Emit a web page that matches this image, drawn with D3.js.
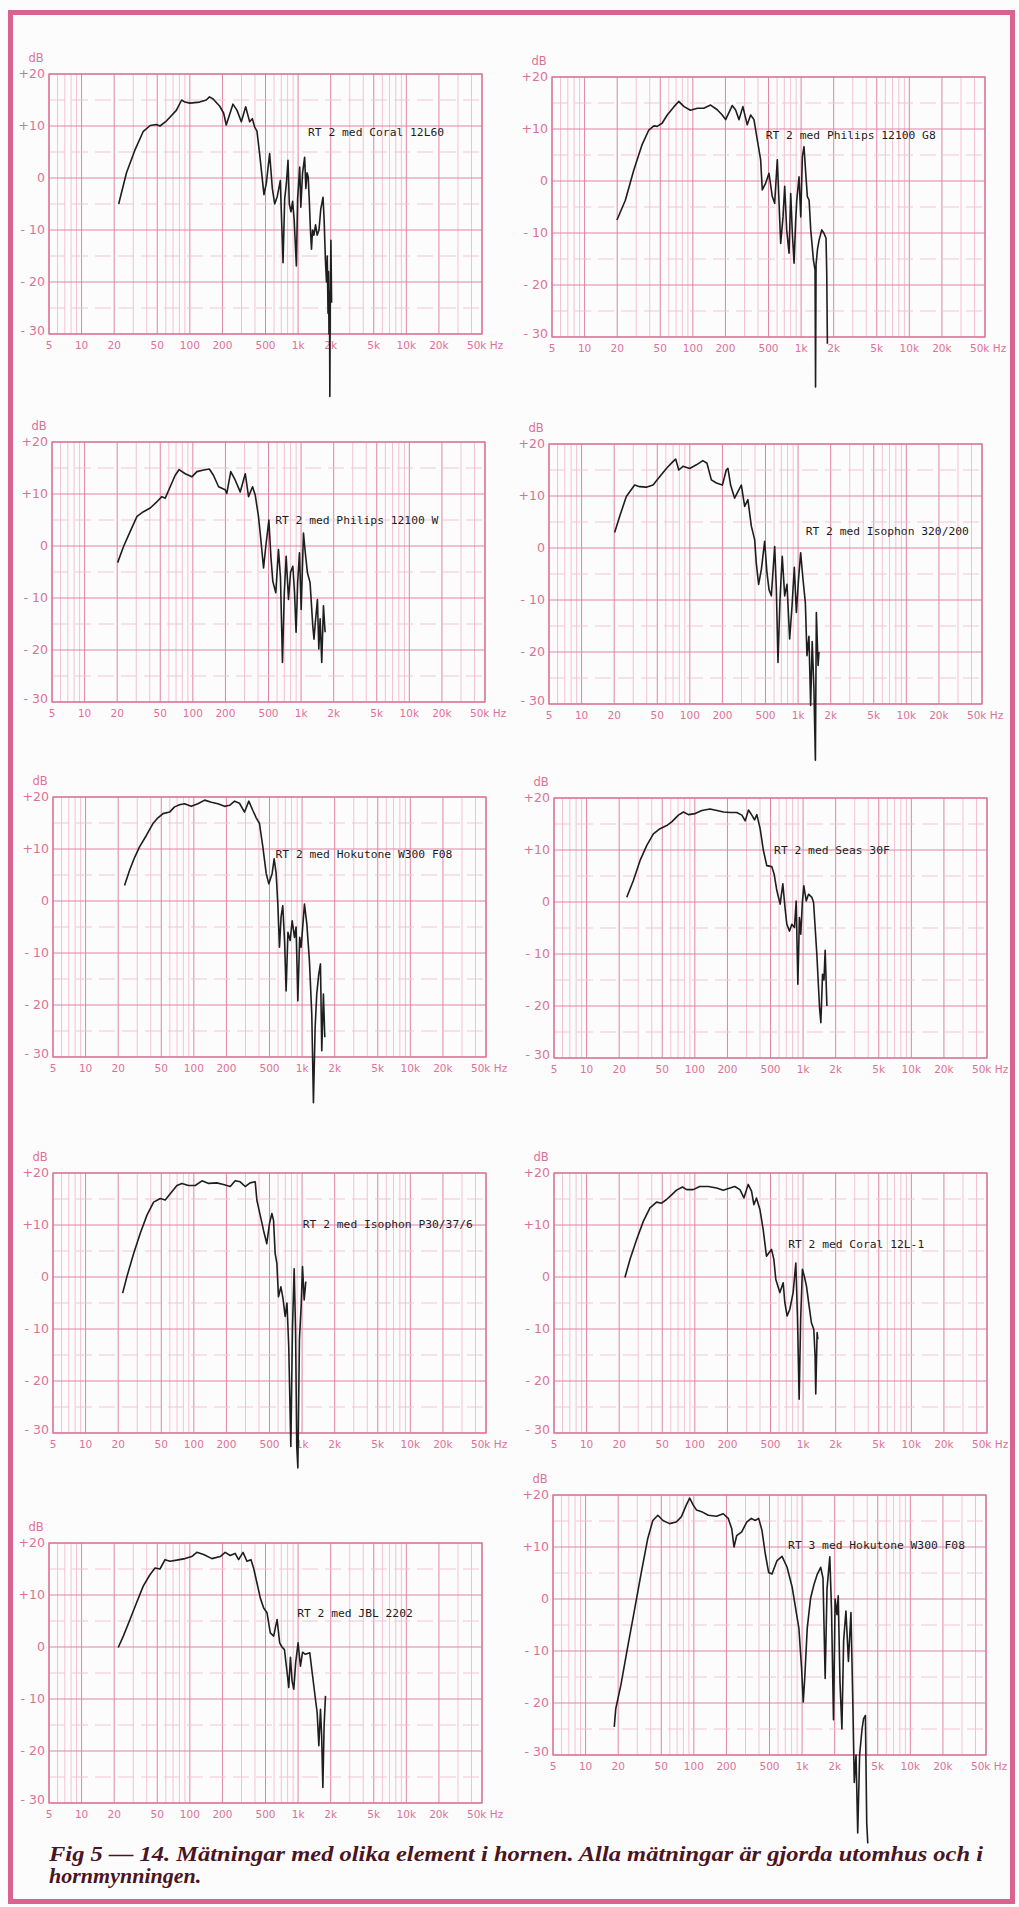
<!DOCTYPE html>
<html>
<head>
<meta charset="utf-8">
<script src="https://cdn.jsdelivr.net/npm/d3@7"></script>
<style>
  body { margin: 0; background: #fff; }
  svg { display: block; }
</style>
</head>
<body>
<svg id="page" width="1019" height="1907"></svg>
<script>
// ---- data: [frequency Hz, level dB] ----
const coral12L60 = [[22,-5],[26,1],[31,5.3],[37,8.9],[43,10.1],[49,10.3],[53,10],[61,11],[75,13],[84,15],[90,14.6],[100,14.4],[123,14.6],[142,15],[152,15.6],[164,15.2],[189,13.8],[205,12.5],[217,10.2],[250,14.2],[273,13],[299,10.8],[328,13.7],[357,10.8],[378,11.4],[397,9.8],[417,9],[441,4.7],[484,-3.2],[509,-1],[546,4.7],[578,-2],[608,-5],[643,-3.5],[685,-0.5],[726,-16.3],[752,-4],[780,-1],[807,3.4],[830,-5],[860,-6.5],[890,-4.5],[920,-8],[964,-16.9],[990,-4],[1035,2.1],[1060,-5.6],[1100,1],[1150,4],[1180,-2],[1210,1],[1240,0.2],[1270,-4.4],[1300,-10],[1330,-13.7],[1360,-10],[1400,-11],[1450,-9],[1500,-11],[1560,-10],[1620,-6],[1700,-3.7],[1740,-8],[1790,-16],[1830,-20],[1860,-15],[1890,-26],[1910,-18],[1930,-30],[1950,-22],[1965,-42],[1980,-25],[2010,-12],[2040,-24]];
const philips12100G8 = [[19.9,-7.5],[23.8,-3.7],[28.5,2.1],[34,7],[39.2,9.8],[43.6,10.6],[46.8,10.5],[52,11.1],[58,12.7],[67,14.3],[74,15.3],[83,14.3],[95,13.6],[110,14],[126,14],[146,14.6],[168,13.7],[187,12.7],[201,11.8],[231,14.5],[248,13.7],[267,11.8],[290,14.3],[318,10.8],[342,12.7],[367,11.8],[394,7.9],[423,4.1],[438,-1.7],[471,-0.4],[505,1.5],[542,-3],[570,-4.3],[603,4.1],[648,-12],[681,-6.9],[706,-1],[736,-9.4],[774,-13.9],[802,-2.4],[830,-10],[861,-15.8],[890,-8],[912,-3.7],[957,0.8],[993,-6.9],[1028,4.7],[1064,6.6],[1104,1.5],[1143,-3],[1186,-3.7],[1228,-9.4],[1300,-15.2],[1346,-17.1],[1360,-39.6],[1375,-16],[1420,-13],[1466,-11.4],[1552,-9.4],[1630,-10.1],[1700,-11],[1726,-17.8],[1750,-31.3]];
const philips12100W = [[20.2,-3.2],[22.9,-0.1],[26.4,2.8],[30.5,5.7],[35,6.6],[40.4,7.3],[46.5,8.5],[51.8,9.5],[55.6,9.2],[61.8,11.4],[68.7,13.6],[74.8,14.7],[85,13.9],[98,13.3],[109,14.3],[126,14.6],[142,14.8],[155,13.6],[173,11.4],[199,10.8],[206,10.1],[224,14.3],[246,12.7],[274,10.4],[305,13.9],[327,9.5],[356,11.4],[377,9.8],[404,5.7],[419,2.5],[450,-4.2],[472,-0.1],[504,5],[526,-2],[548,-6.8],[584,-9],[618,-0.7],[645,-6],[673,-22.4],[700,-9],[728,-2],[765,-10.3],[800,-5],[839,-3.9],[870,-9],[899,-16.6],[930,-7],[966,-1.3],[1002,-12.2],[1052,2.5],[1090,-1],[1146,-5.2],[1210,-7],[1283,-15.4],[1316,-17.9],[1350,-15],[1416,-10.3],[1458,-19.8],[1500,-14],[1552,-22.4],[1609,-11.5],[1667,-16.6]];
const isophon320 = [[20.2,3],[22.5,6.1],[25.9,9.9],[30.9,12.1],[34.4,11.8],[39.6,11.7],[45.7,12.1],[52.6,13.7],[60.7,15.3],[69.8,16.6],[74,17.1],[79,15],[86.5,15.7],[99.6,15.3],[115,16],[132,16.8],[144,16.3],[158,13.1],[176,12.5],[200,12.1],[217,15],[225,15.3],[238,12.1],[259,9.6],[279,10.9],[299,12.1],[321,8],[344,9.3],[370,4.2],[397,1.6],[411,-2.9],[432,-7],[458,-4.1],[491,1.3],[516,-4.8],[539,-8],[566,-9.2],[608,0.3],[630,-8],[652,-22],[680,-10],[714,-1.6],[752,-9.2],[790,-7],[836,-17.5],[880,-11],[923,-3.7],[964,-12.4],[1010,-6],[1056,-0.9],[1110,-6],[1167,-10.5],[1208,-20.7],[1260,-17],[1306,-30.3],[1350,-18],[1400,-27],[1445,-40.8],[1475,-12.4],[1530,-22.6],[1560,-20]];
const hokutoneRT2 = [[22.9,3],[25.5,5.9],[28.4,8.4],[31.5,10.4],[36.4,12.6],[41.9,14.9],[46.6,16],[51.9,16.8],[59.7,17.1],[66.4,18.1],[73.8,18.5],[82,18.7],[94.6,18.2],[109,18.7],[126,19.4],[145,19],[167,18.7],[192,18.2],[214,18.4],[238,19.2],[264,18.8],[294,17.1],[322,19.2],[351,17.4],[377,16],[404,14.9],[434,10.4],[466,5.3],[493,3.3],[529,5.3],[552,8.1],[576,5.3],[597,-0.6],[618,-8.9],[640,-3],[663,-0.9],[690,-8],[712,-17.3],[740,-6],[776,-7.6],[810,-3.8],[851,-7],[880,-5],[914,-19.2],[950,-7],[980,-8.9],[1052,-0.6],[1106,-4.4],[1169,-11.5],[1229,-21.8],[1273,-38.8],[1320,-24.3],[1366,-17.9],[1425,-14.1],[1478,-12.1],[1520,-28.8],[1574,-17.9],[1621,-26.2]];
const seas30F = [[23.5,0.9],[27,4.1],[31.2,8],[36,10.9],[41.4,13.1],[47.7,14.1],[55,14.7],[61.2,15.4],[70.5,16.7],[78.5,17.3],[87.3,16.8],[100.6,17],[116,17.6],[138,17.9],[160,17.6],[184,17.3],[212,17.2],[244,17.2],[272,16.7],[292,15.6],[313,17.7],[336,16.7],[356,15.8],[374,16.8],[401,14.1],[430,9.9],[462,7],[514,6.8],[540,5.4],[572,2.2],[614,-0.4],[650,3.5],[680,-1],[708,-4.3],[750,-5.6],[787,-4.3],[833,-4.9],[863,0.2],[895,-15.8],[925,-3],[952,-6.2],[985,0],[1016,3.1],[1069,0.2],[1122,1.5],[1205,0.9],[1250,-0.1],[1340,-10.1],[1419,-20.3],[1459,-23.2],[1512,-13.9],[1560,-15],[1599,-9.3],[1659,-20]];
const isophonP30 = [[22,-3.1],[24.1,0.1],[27.8,4.5],[32,8.4],[36.9,11.9],[42.5,14.4],[49,15.1],[54.4,14.8],[60.5,16],[69.8,17.6],[77.6,18],[89.3,17.6],[103,17.6],[119,18.5],[137,18],[163,18.1],[188,17.8],[217,17.4],[241,18.5],[268,18.3],[298,17.4],[331,18.1],[369,18.3],[382,14.8],[410,11.9],[440,9],[472,6.4],[500,10.3],[526,12.2],[545,10.9],[564,4.5],[585,2.6],[605,-3.8],[637,-1.9],[665,-4],[698,-7.6],[725,-5],[753,-13.4],[787,-32.6],[815,-10],[845,1.6],[870,-10],[893,-32.6],[914,-36.7],[945,-12],[980,-5.7],[1009,2],[1045,-4.4],[1082,-0.9]];
const coral12L1 = [[22.6,-0.1],[25.2,3.4],[29,7.2],[33.4,10.7],[38.5,13.3],[44.3,14.4],[49.3,14.2],[54.8,14.9],[61,15.8],[67.8,16.7],[77,17.3],[84,16.8],[96.6,16.8],[111,17.4],[133,17.4],[159,17.1],[183,16.7],[211,17.1],[234,17.4],[261,16.8],[284,15.2],[311,17.8],[334,16.5],[351,13.9],[371,15.2],[399,13],[428,9.1],[459,4],[486,4.7],[511,5.3],[537,3.4],[560,-0.5],[610,-3],[655,-1.1],[678,-4.9],[712,-7.5],[754,-6.2],[809,-3],[857,2.7],[887,-7.5],[920,-23.5],[950,-8],[986,1.5],[1030,0],[1074,-1.7],[1137,-5.6],[1194,-8.8],[1256,-10.1],[1291,-15.2],[1309,-22.5],[1348,-10.7],[1370,-12]];
const jbl2202 = [[21.8,-0.1],[24.3,2.1],[28,5.3],[32.2,8.5],[37.1,11.7],[42.8,13.9],[47.7,15.2],[53,15],[59,16.8],[65.6,16.5],[75.6,16.7],[90.3,17],[104,17.4],[116,18.2],[134,17.8],[160,17],[191,17.4],[212,18.2],[236,17.6],[262,18],[282,16.8],[310,18.2],[337,16.5],[367,16.8],[388,15.2],[417,12.3],[448,9.4],[481,7.5],[516,6.6],[554,2.7],[595,2.1],[640,5.3],[676,0.8],[710,0],[748,-0.5],[792,-4.9],[820,-7.8],[850,-2],[881,-6.6],[912,-8.1],[950,-3],[1000,0.8],[1051,-3.7],[1100,-1],[1169,-1.4],[1282,-1.1],[1349,-4.9],[1448,-10.1],[1500,-12.6],[1555,-19],[1610,-12],[1650,-17],[1694,-27],[1740,-15],[1791,-9.4]];
const hokutoneRT3 = [[18.4,-24.6],[19,-21.1],[21.2,-16.5],[24.4,-9.4],[28.2,-2.3],[32.5,4.8],[37.5,11.6],[41.8,15.1],[46.5,16.1],[51.8,15.1],[59.7,14.5],[68.8,14.8],[76.6,15.8],[85.3,18.1],[91.6,19.4],[98.4,18.1],[106,17.1],[118,16.8],[136,16.1],[162,15.9],[187,16.4],[208,15.5],[224,13.5],[235,10],[249,12.2],[277,12.9],[308,14.8],[339,15.5],[369,15.1],[397,15.5],[426,13.2],[457,8.7],[491,5.1],[527,4.8],[587,7.4],[653,8.2],[727,6.1],[811,2.2],[870,-1.7],[934,-5.6],[989,-13.3],[1025,-19.8],[1062,-14.6],[1116,-5.6],[1199,0.2],[1288,2.8],[1384,4.8],[1486,6.1],[1560,4],[1634,-15.3],[1700,2],[1803,8.1],[1870,-2],[1950,-23.2],[2020,0],[2100,-3],[2157,0.6],[2240,-16],[2333,-25],[2420,-8],[2541,-2.3],[2680,-12],[2827,-2.6],[2930,-18],[3034,-35.3],[3150,-30],[3266,-45],[3400,-30],[3580,-25],[3700,-23],[3845,-22.4],[3954,-43],[4045,-47]];

const curves = [coral12L60, philips12100G8, philips12100W, isophon320, hokutoneRT2,
                seas30F, isophonP30, coral12L1, jbl2202, hokutoneRT3];
const titles = ['RT 2 med Coral 12L60', 'RT 2 med Philips 12100 G8', 'RT 2 med Philips 12100 W',
                'RT 2 med Isophon 320/200', 'RT 2 med Hokutone W300 F08', 'RT 2 med Seas 30F',
                'RT 2 med Isophon P30/37/6', 'RT 2 med Coral 12L-1', 'RT 2 med JBL 2202',
                'RT 3 med Hokutone W300 F08'];
// where each title sits, in [Hz, dB]
const titleAt = [[1236,8.9],[471,8.9],[576,5],[1174,3.2],[568,9.1],[540,10],[1015,10.2],[728,6.3],[980,6.6],[743,10.3]];

const xTicks = [5,10,20,50,100,200,500,1000,2000,5000,10000,20000,50000];
const xTickLabels = ['5','10','20','50','100','200','500','1k','2k','5k','10k','20k','50k Hz'];
const yTicks = [20,10,0,-10,-20,-30];
const yTickLabels = ['+20','+10','0','- 10','- 20','- 30'];
const captionLines = ['Fig 5 — 14. Mätningar med olika element i hornen. Alla mätningar är gjorda utomhus och i',
                      'hornmynningen.'];

// ---- layout ----
const W = 433, H = 260;
const panelPos = [[49,74],[552,77],[52,442],[549,444],[53,797],[554,798],[53,1173],[554,1173],[49,1543],[553,1495]];
const pinkMajor = '#df84a4', pinkMinor = '#f1c3d2', pinkText = '#dc7197';

const svg = d3.select('#page');
svg.append('rect').attr('width', 1019).attr('height', 1907).attr('fill', '#fdfcfc');
svg.append('rect')
    .attr('x', 10.5).attr('y', 12.5).attr('width', 1002).attr('height', 1889)
    .attr('fill', 'none').attr('stroke', '#d9628e').attr('stroke-width', 5);

const x = d3.scaleLog().domain([5, 50000]).range([0, W]);
const y = d3.scaleLinear().domain([-30, 20]).range([H, 0]);

const isMajor = v => {
  const m = Math.round(v / Math.pow(10, Math.floor(Math.log10(v) + 1e-9)));
  return m === 1 || m === 2 || m === 5;
};

const line = d3.line().x(d => x(d[0])).y(d => y(d[1]));

curves.forEach((data, i) => {
  const g = svg.append('g')
      .attr('transform', `translate(${panelPos[i][0]},${panelPos[i][1]})`);

  // log paper: minor then major verticals
  const vt = x.ticks();
  g.append('g').selectAll('line')
      .data(vt.filter(v => !isMajor(v)))
      .enter().append('line')
        .attr('x1', d => x(d)).attr('x2', d => x(d))
        .attr('y1', 0).attr('y2', H)
        .attr('stroke', pinkMinor).attr('stroke-width', 1);
  g.append('g').selectAll('line')
      .data(vt.filter(isMajor))
      .enter().append('line')
        .attr('x1', d => x(d)).attr('x2', d => x(d))
        .attr('y1', 0).attr('y2', H)
        .attr('stroke', pinkMajor).attr('stroke-width', 1);

  // 5 dB dashed and 10 dB solid horizontals
  g.append('g').selectAll('line')
      .data([15, 5, -5, -15, -25])
      .enter().append('line')
        .attr('x1', 0).attr('x2', W)
        .attr('y1', d => y(d)).attr('y2', d => y(d))
        .attr('stroke', pinkMinor).attr('stroke-width', 1.2)
        .attr('stroke-dasharray', '16,7');
  g.append('g').selectAll('line')
      .data(yTicks)
      .enter().append('line')
        .attr('x1', 0).attr('x2', W)
        .attr('y1', d => y(d)).attr('y2', d => y(d))
        .attr('stroke', pinkMajor).attr('stroke-width', 1.1);

  g.append('rect')
      .attr('width', W).attr('height', H)
      .attr('fill', 'none').attr('stroke', '#da7898').attr('stroke-width', 1.4);

  // axis labels
  g.append('g').selectAll('text')
      .data(yTicks)
      .enter().append('text')
        .attr('x', -4)
        .attr('y', (d, k) => y(d) + (d === -30 ? 1 : 4))
        .attr('text-anchor', 'end')
        .style('font-family', 'DejaVu Sans, sans-serif')
        .style('font-size', '12.5px')
        .style('fill', pinkText)
        .text((d, k) => yTickLabels[k]);
  g.append('text')
      .attr('x', -13).attr('y', -12)
      .attr('text-anchor', 'middle')
      .style('font-family', 'DejaVu Sans, sans-serif')
      .style('font-size', '11.5px')
      .style('fill', pinkText)
      .text('dB');
  g.append('g').selectAll('text')
      .data(xTicks)
      .enter().append('text')
        .attr('x', (d, k) => k === xTicks.length - 1 ? x(d) - 15 : x(d))
        .attr('y', H + 15)
        .attr('text-anchor', (d, k) => k === xTicks.length - 1 ? 'start' : 'middle')
        .style('font-family', 'DejaVu Sans, sans-serif')
        .style('font-size', '10.5px')
        .style('fill', pinkText)
        .text((d, k) => xTickLabels[k]);

  // response curve (runs past the paper edge like the original pen trace)
  g.append('path')
      .datum(data)
      .attr('d', line)
      .attr('fill', 'none')
      .attr('stroke', '#1e1e1e')
      .attr('stroke-width', 1.6)
      .attr('stroke-linejoin', 'round');

  g.append('text')
      .attr('x', x(titleAt[i][0]))
      .attr('y', y(titleAt[i][1]) + 4)
      .style('font-family', 'DejaVu Sans Mono, monospace')
      .style('font-size', '11.3px')
      .style('fill', '#1e1e1e')
      .text(titles[i]);
});

// caption
svg.append('text')
    .attr('x', 49).attr('y', 1861)
    .attr('textLength', 934).attr('lengthAdjust', 'spacingAndGlyphs')
    .style('font-family', 'Liberation Serif, serif')
    .style('font-style', 'italic').style('font-weight', 'bold')
    .style('font-size', '22px')
    .style('fill', '#4a1422')
    .text(captionLines[0]);
svg.append('text')
    .attr('x', 49).attr('y', 1883)
    .style('font-family', 'Liberation Serif, serif')
    .style('font-style', 'italic').style('font-weight', 'bold')
    .style('font-size', '22px')
    .style('fill', '#4a1422')
    .text(captionLines[1]);
</script>
</body>
</html>
